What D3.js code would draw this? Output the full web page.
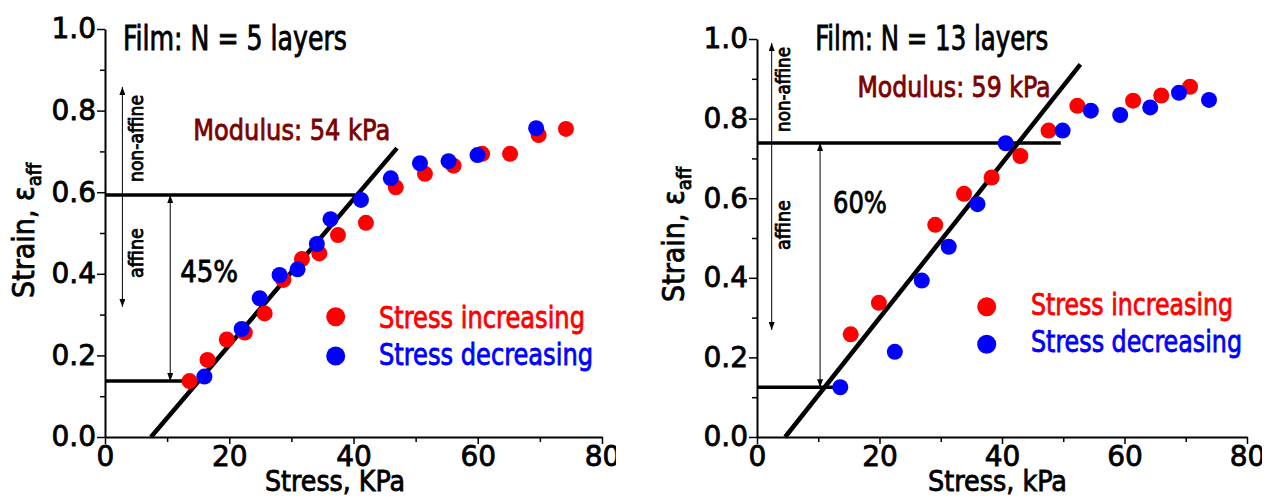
<!DOCTYPE html>
<html>
<head>
<meta charset="utf-8">
<script src="https://cdn.jsdelivr.net/npm/d3@7"></script>
<style>
	html, body { margin: 0; padding: 0; background: #fff; }
	svg text { font-family: "DejaVu Sans Condensed", "DejaVu Sans", sans-serif; stroke-width: 0.8px; }
	svg .tick text { font-family: "DejaVu Sans", sans-serif; }
</style>
</head>
<body>
<div id="chart"></div>
<script>
// DATA
const stressTicks = [0, 20, 40, 60, 80];
const stressMinor = [10, 30, 50, 70];
const strainTicks = [0.0, 0.2, 0.4, 0.6, 0.8, 1.0];
const strainMinor = [0.1, 0.3, 0.5, 0.7, 0.9];

// film N = 5 layers, [stress kPa, strain]
const n5Increasing = [
	[13.6, 0.137], [16.5, 0.189], [19.6, 0.239], [22.5, 0.256], [25.7, 0.303],
	[28.7, 0.385], [31.7, 0.436], [34.5, 0.450], [37.5, 0.495], [42.0, 0.525],
	[46.8, 0.612], [51.5, 0.645], [56.1, 0.665], [60.7, 0.694], [65.2, 0.694],
	[69.8, 0.740], [74.2, 0.755]
];
const n5Decreasing = [
	[16.0, 0.148], [22.0, 0.265], [24.9, 0.340], [28.1, 0.397], [31.0, 0.411],
	[34.1, 0.473], [36.3, 0.534], [41.2, 0.581], [46.0, 0.634], [50.7, 0.671],
	[55.3, 0.676], [59.96, 0.691], [69.4, 0.757]
];
const n5Fit = [[7.4, 0], [47.0, 0.708]];

// film N = 13 layers
const n13Increasing = [
	[15.3, 0.258], [19.9, 0.337], [29.1, 0.533], [33.8, 0.611], [38.3, 0.652],
	[43.0, 0.706], [47.6, 0.770], [52.3, 0.832], [61.4, 0.845], [66.0, 0.858],
	[70.7, 0.880]
];
const n13Decreasing = [
	[13.6, 0.125], [22.5, 0.214], [26.9, 0.393], [31.3, 0.478], [36.0, 0.585],
	[40.6, 0.738], [49.9, 0.770], [54.5, 0.820], [59.3, 0.809], [64.2, 0.828],
	[68.9, 0.865], [73.8, 0.847]
];
const n13Fit = [[4.6, 0], [52.8, 0.936]];

// guide levels [strain, stress where the guide ends]
const n5Guides = [[0.137, 12.6], [0.593, 40.3]];
const n13Guides = [[0.125, 14.0], [0.739, 49.6]];

// double arrows [stress, strain from, strain to]
const n5Arrows = [[2.8, 0.319, 0.858], [10.5, 0.137, 0.593]];
const n13Arrows = [[2.4, 0.269, 0.990], [10.3, 0.125, 0.739]];

const titles = ['Film: N = 5 layers', 'Film: N = 13 layers'];
const moduli = ['Modulus: 54 kPa', 'Modulus: 59 kPa'];
const fractions = ['45%', '60%'];
const xTitles = ['Stress, KPa', 'Stress, kPa'];
const legendLabels = ['Stress increasing', 'Stress decreasing'];

// LAYOUT
const colours = { inc: '#ff0000', dec: '#0000ff', modulus: '#7d0000' };
const panels = [
	{
		id: 'a', left: 105, right: 602, top: 29, bottom: 437, clipX: 0, clipW: 616,
		inc: n5Increasing, dec: n5Decreasing, fit: n5Fit, guides: n5Guides, arrows: n5Arrows,
		title: { x: 2.9, y: 0.949, len: 224 },
		modulus: { x: 14.2, y: 0.728, len: 197 },
		fraction: { x: 12.1, y: 0.38, len: 58 },
		nonAffine: { x: 143, y0: 182, len: 87 },
		affine: { x: 143, y0: 278, len: 50 },
		yTitle: { x: 34, y: 298, len: 132 },
		xTitle: { x: 265, y: 491, len: 140 },
		legend: { cx: 335.7, cy: [316.7, 356], tx: 379, ty: [328, 365], len: [206, 214] }
	},
	{
		id: 'b', left: 757, right: 1247, top: 39, bottom: 437, clipX: 640, clipW: 622,
		inc: n13Increasing, dec: n13Decreasing, fit: n13Fit, guides: n13Guides, arrows: n13Arrows,
		title: { x: 9.5, y: 0.972, len: 233 },
		modulus: { x: 16.4, y: 0.854, len: 193 },
		fraction: { x: 12.4, y: 0.563, len: 54 },
		nonAffine: { x: 790, y0: 132, len: 85 },
		affine: { x: 790, y0: 250, len: 50 },
		yTitle: { x: 684, y: 302, len: 126 },
		xTitle: { x: 928, y: 491, len: 139 },
		legend: { cx: 986.7, cy: [306.7, 344.3], tx: 1031, ty: [315, 352], len: [202, 211] }
	}
];

const width = 1280, height = 502;

const svg = d3.select('#chart')
	.append('svg')
	.attr('width', width)
	.attr('height', height)
	.attr('viewBox', [0, 0, width, height]);

const defs = svg.append('defs');
defs.append('marker')
	.attr('id', 'arrow')
	.attr('viewBox', '0 0 8 6')
	.attr('refX', 8)
	.attr('refY', 3)
	.attr('markerWidth', 8)
	.attr('markerHeight', 6)
	.attr('markerUnits', 'userSpaceOnUse')
	.attr('orient', 'auto-start-reverse')
	.append('path')
	.attr('d', 'M0,0L8,3L0,6Z')
	.attr('fill', '#000');

const styleAxis = g => {
	g.select('.domain').attr('stroke-width', 2);
	g.selectAll('.tick line').attr('stroke-width', 1.5);
	g.selectAll('text').attr('font-size', 28).attr('fill', '#000').attr('stroke', '#000');
};

// text helper: squeezed to the reference width, stroked a little to look heavier
const label = (g, str, size, colour, len) => {
	const t = g.append('text')
		.attr('font-size', size)
		.attr('fill', colour)
		.attr('stroke', colour)
		.text(str);
	if (len) t.attr('textLength', len).attr('lengthAdjust', 'spacingAndGlyphs');
	return t;
};

const drawPanel = (p, i) => {
	const x = d3.scaleLinear().domain([0, 80]).range([p.left, p.right]);
	const y = d3.scaleLinear().domain([0, 1]).range([p.bottom, p.top]);

	defs.append('clipPath')
		.attr('id', `clip-${p.id}`)
		.append('rect')
		.attr('x', p.clipX).attr('y', 0)
		.attr('width', p.clipW).attr('height', height);

	const g = svg.append('g').attr('clip-path', `url(#clip-${p.id})`);

	// axes
	g.append('g')
		.attr('transform', `translate(0,${p.bottom})`)
		.call(d3.axisBottom(x).tickValues(stressTicks).tickSize(7).tickSizeOuter(0).tickPadding(2))
		.call(styleAxis);
	g.append('g')
		.attr('transform', `translate(0,${p.bottom})`)
		.call(d3.axisBottom(x).tickValues(stressMinor).tickSize(5).tickFormat(''))
		.call(g => g.select('.domain').remove())
		.call(styleAxis);
	g.append('g')
		.attr('transform', `translate(${p.left},0)`)
		.call(d3.axisLeft(y).tickValues(strainTicks).tickFormat(d3.format('.1f')).tickSize(8).tickSizeOuter(0).tickPadding(1))
		.call(styleAxis);
	g.append('g')
		.attr('transform', `translate(${p.left},0)`)
		.call(d3.axisLeft(y).tickValues(strainMinor).tickSize(5).tickFormat(''))
		.call(g => g.select('.domain').remove())
		.call(styleAxis);

	// guide levels
	g.append('g')
		.selectAll('line')
		.data(p.guides)
		.join('line')
		.attr('x1', x(0))
		.attr('x2', d => x(d[1]))
		.attr('y1', d => y(d[0]))
		.attr('y2', d => y(d[0]))
		.attr('stroke', '#000')
		.attr('stroke-width', 3.5);

	// double arrows
	g.append('g')
		.selectAll('line')
		.data(p.arrows)
		.join('line')
		.attr('x1', d => x(d[0]))
		.attr('x2', d => x(d[0]))
		.attr('y1', d => y(d[1]))
		.attr('y2', d => y(d[2]))
		.attr('stroke', '#000')
		.attr('stroke-width', 1)
		.attr('marker-start', 'url(#arrow)')
		.attr('marker-end', 'url(#arrow)');

	// fit line
	g.append('path')
		.datum(p.fit)
		.attr('fill', 'none')
		.attr('stroke', '#000')
		.attr('stroke-width', 4.5)
		.attr('d', d3.line().x(d => x(d[0])).y(d => y(d[1])));

	// points
	[[p.inc, colours.inc], [p.dec, colours.dec]].forEach(([data, c]) => {
		g.append('g')
			.selectAll('circle')
			.data(data)
			.join('circle')
			.attr('cx', d => x(d[0]))
			.attr('cy', d => y(d[1]))
			.attr('r', 8)
			.attr('fill', c);
	});

	// texts
	label(g, titles[i], 33, '#000', p.title.len)
		.attr('x', x(p.title.x)).attr('y', y(p.title.y));

	label(g, moduli[i], 29, colours.modulus, p.modulus.len)
		.attr('x', x(p.modulus.x)).attr('y', y(p.modulus.y));

	label(g, fractions[i], 31, '#000', p.fraction.len)
		.attr('x', x(p.fraction.x)).attr('y', y(p.fraction.y));

	[[p.nonAffine, 'non-affine'], [p.affine, 'affine']].forEach(([t, str]) => {
		label(g, str, 20, '#000', t.len)
			.attr('stroke-width', 0.4)
			.attr('transform', `translate(${t.x},${t.y0}) rotate(-90)`);
	});

	const yt = label(g, '', 30, '#000')
		.attr('transform', `translate(${p.yTitle.x},${p.yTitle.y}) rotate(-90)`);
	yt.append('tspan').text('Strain, ε');
	yt.append('tspan').attr('font-size', 20).attr('dy', 7).text('aff');

	label(g, xTitles[i], 29, '#000', p.xTitle.len)
		.attr('x', p.xTitle.x).attr('y', p.xTitle.y);

	// legend
	const lg = g.append('g');
	[colours.inc, colours.dec].forEach((c, k) => {
		lg.append('circle')
			.attr('cx', p.legend.cx).attr('cy', p.legend.cy[k])
			.attr('r', 9.5)
			.attr('fill', c);
		label(lg, legendLabels[k], 31, c, p.legend.len[k])
			.attr('x', p.legend.tx).attr('y', p.legend.ty[k]);
	});
};

panels.forEach(drawPanel);
</script>
</body>
</html>
